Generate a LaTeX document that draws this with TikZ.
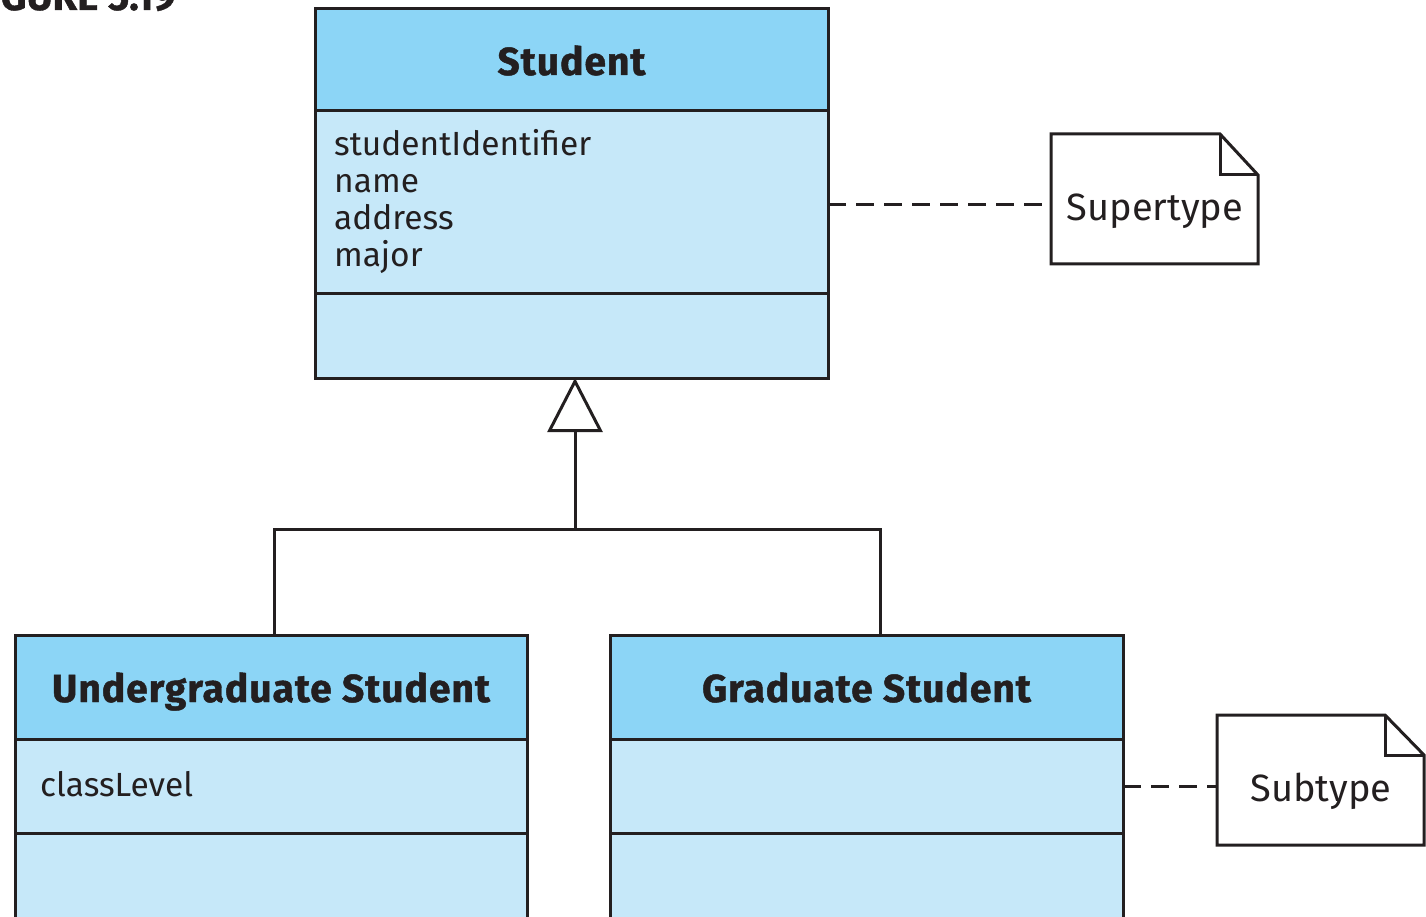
\documentclass[tikz,border=0pt]{standalone}
\usepackage{fontspec}
\setmainfont{Fira Sans}
\usetikzlibrary{arrows.meta}
\definecolor{ink}{HTML}{231F20}
\definecolor{hdrblue}{HTML}{8CD5F6}
\definecolor{bodyblue}{HTML}{C6E8F9}
\newcommand{\headfont}{\fontsize{39}{42}\selectfont\bfseries\addfontfeature{FakeBold=1.2,LetterSpace=2.5}}
\begin{document}
\begin{tikzpicture}[x=1pt,y=-1pt,
  box/.style={draw=ink, line width=3pt, outer sep=0pt, inner sep=0pt, anchor=north west},
  hdr/.style={box, fill=hdrblue, text=ink, font=\headfont, text height=38pt, text depth=8pt},
  cmp/.style={box, fill=bodyblue},
  attr/.style={inner sep=0pt, align=left, text=ink, font=\fontsize{33.5}{37}\selectfont},
  note/.style={minimum width=207pt, minimum height=130pt, inner sep=0pt, outer sep=0pt,
               anchor=north west},
  notetext/.style={text=ink, inner sep=0pt, font=\fontsize{38}{40}\selectfont},
  outline/.style={draw=ink, line width=3pt, line join=miter, fill=white},
  conn/.style={draw=ink, line width=3pt},
  dashline/.style={conn, dash pattern=on 18pt off 10pt},
  gen/.style={conn, -{Triangle[open, length=54pt, width=55pt, line width=3pt]}},
]
\useasboundingbox (0,0) rectangle (1426,917);
\clip (0,0) rectangle (1426,917);

% caption (runs off the top edge)
\node[anchor=base east, inner sep=0pt, text=ink,
      font=\fontsize{40}{40}\selectfont\bfseries\addfontfeature{FakeBold=1}] (fig) at (176,10) {FIGURE 5.19};

% superclass
\node[hdr, minimum width=513pt, minimum height=102pt] (stuH) at (315,9) {Student};
\node[cmp, minimum width=513pt, minimum height=182pt] (stuA) at (315,111) {};
\node[cmp, minimum width=513pt, minimum height=85pt]  (stuO) at (315,293) {};
\node[attr, anchor=north west] (stuAttr) at (334,129)
  {studentIdentifier\\name\\address\\major};

% subclasses
\node[hdr, minimum width=512pt, minimum height=104pt] (ugH) at (15,635) {Undergraduate Student};
\node[cmp, minimum width=512pt, minimum height=94pt]  (ugA) at (15,739) {};
\node[cmp, minimum width=512pt, minimum height=110pt] (ugO) at (15,833) {};
\node[attr, anchor=base west] (ugAttr) at (40,796) {classLevel};

\node[hdr, minimum width=513pt, minimum height=104pt] (grH) at (610,635) {Graduate Student};
\node[cmp, minimum width=513pt, minimum height=94pt]  (grA) at (610,739) {};
\node[cmp, minimum width=513pt, minimum height=110pt] (grO) at (610,833) {};

% generalization
\coordinate (gen) at (575,529);
\coordinate (ugTop) at (274,635);
\coordinate (grTop) at (880,635);
\draw[conn] (ugTop) |- (gen) -| (grTop);
\draw[gen] (gen) -- (gen |- stuO.south);

% notes
\node[note] (sup) at (1051,134) {};
\draw[outline] (sup.north west) -- ([xshift=-38pt]sup.north east)
  -- ([yshift=-41pt]sup.north east) -- (sup.south east) -- (sup.south west) -- cycle;
\draw[conn, line join=miter] ([xshift=-38pt]sup.north east) -- ([xshift=-38pt,yshift=-41pt]sup.north east)
  -- ([yshift=-41pt]sup.north east);
\node[notetext] (supT) at (1155,211) {Supertype};

\node[note] (sub) at (1217,715) {};
\draw[outline] (sub.north west) -- ([xshift=-39pt]sub.north east)
  -- ([yshift=-40pt]sub.north east) -- (sub.south east) -- (sub.south west) -- cycle;
\draw[conn, line join=miter] ([xshift=-39pt]sub.north east) -- ([xshift=-39pt,yshift=-40pt]sub.north east)
  -- ([yshift=-40pt]sub.north east);
\node[notetext] (subT) at (1321,791) {Subtype};

% note anchors
\coordinate (supPin) at (1051,205);
\coordinate (subPin) at (1217,786);
\draw[dashline] (supPin -| stuA.east) -- (supPin);
\draw[dashline] (subPin -| grA.east) -- (subPin);
\end{tikzpicture}
\end{document}
